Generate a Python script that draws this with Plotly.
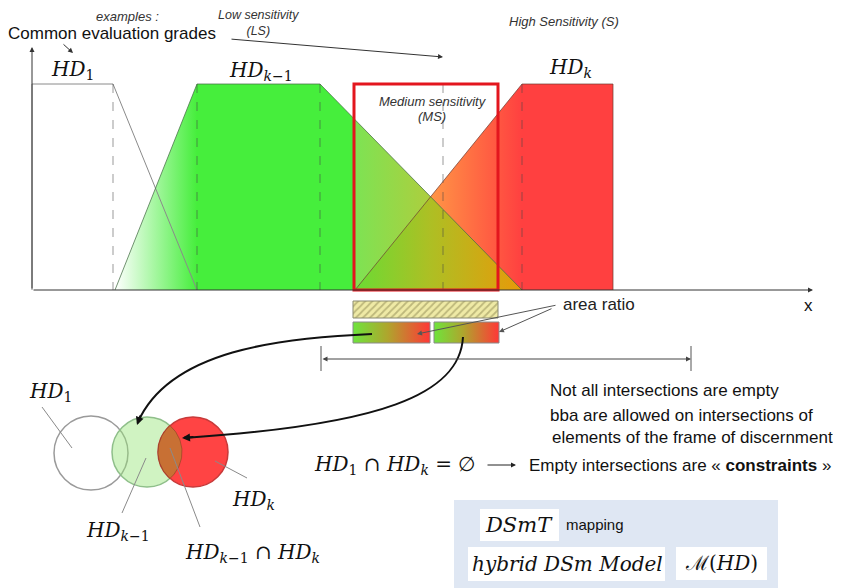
import numpy as np
import plotly.graph_objects as go

W, H = 841, 588
PAGE_MARGIN = 8   # default <body> margin of the html page

# ---- membership functions (trapezoids) on the evaluation-grade axis ----
hd1_x = [32, 32, 113, 197]
hd1_y = [290, 84, 84, 290]
hdk1_x = [115, 197, 320, 522]
hdk1_y = [290, 84, 84, 290]
hdk_x = [355, 522, 613, 613]
hdk_y = [290, 84, 84, 290]
breakpoints_x = [113, 197, 320, 443, 522]
top_y, base_y = 84, 290
ms_box = [354, 498, 84, 290]          # medium sensitivity window (x0, x1, y0, y1)
axis_x0, axis_x_end, axis_y_end = 32, 813, 47

# ---- area ratio bars ----
hatch_bar = [353, 498, 301, 318]
ratio_bars_x = [[353, 430], [434, 499]]
ratio_bars_y = [322, 343]
dim_line = [321, 691, 359]

# ---- Venn diagram ----
circle_cx = [91, 147, 193]
circle_cy = [453, 452, 452]
circle_r = [37, 35, 35]
circle_fill = ["white", "rgba(150,228,120,0.45)", "#ff4444"]
circle_line = ["#9a9a9a", "#8fbf8a", "#c83a3a"]

SERIF = "DejaVu Serif"
SANS = "Liberation Sans"

fig = go.Figure()

# HD1 white fill
fig.add_trace(go.Scatter(x=hd1_x, y=hd1_y, fill="toself", fillcolor="white",
                         mode="none", hoverinfo="skip"))
# HDk red (with orange gradient on its rising side)
fig.add_trace(go.Scatter(
    x=hdk_x, y=hdk_y, fill="toself", mode="none", hoverinfo="skip",
    fillgradient=dict(type="horizontal", start=355, stop=613,
                      colorscale=[[0, "rgb(120,200,30)"], [0.29, "rgb(255,150,70)"],
                                  [0.647, "rgb(255,64,64)"], [1, "rgb(255,64,64)"]])))
# HDk-1 green (white->green on the left, green->amber inside MS window)
s0, s1 = 115, 522
def pos(v):
    return (v - s0) / (s1 - s0)
fig.add_trace(go.Scatter(
    x=hdk1_x, y=hdk1_y, fill="toself", mode="none", hoverinfo="skip",
    fillgradient=dict(type="horizontal", start=s0, stop=s1,
                      colorscale=[[0, "rgba(70,238,60,0)"], [pos(197), "rgba(70,238,60,1)"],
                                  [pos(353), "rgba(70,238,60,1)"], [pos(356), "rgba(105,222,55,0.86)"],
                                  [1, "rgba(228,168,0,0.86)"]])))
# outlines
for xs, ys, col in [(hd1_x, hd1_y, "#8a8a8a"), (hdk1_x, hdk1_y, "rgba(70,110,70,0.75)"),
                    (hdk_x, hdk_y, "rgba(110,60,50,0.7)")]:
    fig.add_trace(go.Scatter(x=xs, y=ys, mode="lines", hoverinfo="skip",
                             line=dict(color=col, width=1)))
# dashed break lines
for bx in breakpoints_x:
    fig.add_trace(go.Scatter(x=[bx, bx], y=[top_y, base_y], mode="lines", hoverinfo="skip",
                             line=dict(color="rgba(70,70,70,0.55)", width=1, dash="dash")))

# hatched bar
fig.add_trace(go.Bar(
    x=[hatch_bar[1] - hatch_bar[0]], base=[hatch_bar[0]],
    y=[(hatch_bar[2] + hatch_bar[3]) / 2], width=[hatch_bar[3] - hatch_bar[2]],
    orientation="h", hoverinfo="skip",
    marker=dict(color="#efeaa6", line=dict(color="#8a8a70", width=1),
                pattern=dict(shape="/", fgcolor="#8c8650", bgcolor="#efeaa6",
                             size=5, solidity=0.35))))
# gradient ratio bars
for bx in ratio_bars_x:
    fig.add_trace(go.Scatter(
        x=[bx[0], bx[1], bx[1], bx[0], bx[0]],
        y=[ratio_bars_y[0], ratio_bars_y[0], ratio_bars_y[1], ratio_bars_y[1], ratio_bars_y[0]],
        fill="toself", mode="lines", hoverinfo="skip",
        line=dict(color="#8a8a8a", width=1),
        fillgradient=dict(type="horizontal", start=bx[0], stop=bx[1],
                          colorscale=[[0, "rgb(110,228,60)"], [0.45, "rgb(175,165,45)"],
                                      [1, "rgb(255,55,55)"]])))

# lens (HDk-1 ∩ HDk)
c2 = np.array([circle_cx[1], circle_cy[1]], float)
c3 = np.array([circle_cx[2], circle_cy[2]], float)
r2, r3 = circle_r[1], circle_r[2]
d = np.linalg.norm(c3 - c2)
base_ang = np.arctan2(*(c3 - c2)[::-1])
a2 = np.arccos((d**2 + r2**2 - r3**2) / (2 * d * r2))
a3 = np.arccos((d**2 + r3**2 - r2**2) / (2 * d * r3))
t2 = np.linspace(base_ang - a2, base_ang + a2, 40)
t3 = np.linspace(base_ang + np.pi - a3, base_ang + np.pi + a3, 40)
lx = np.concatenate([c2[0] + r2 * np.cos(t2), c3[0] + r3 * np.cos(t3)])
ly = np.concatenate([c2[1] + r2 * np.sin(t2), c3[1] + r3 * np.sin(t3)])
fig.add_trace(go.Scatter(x=lx, y=ly, fill="toself", fillcolor="rgb(200,112,52)",
                         mode="lines", line=dict(color="rgba(120,60,30,0.5)", width=1),
                         hoverinfo="skip"))

shapes = []
# MS window
shapes.append(dict(type="rect", x0=ms_box[0], x1=ms_box[1], y0=ms_box[2], y1=ms_box[3],
                   line=dict(color="#e3161e", width=3)))
# Venn circles (below traces so the lens sits on top)
for cx, cy, r, fc, lc in zip(circle_cx, circle_cy, circle_r, circle_fill, circle_line):
    shapes.append(dict(type="circle", layer="below", x0=cx - r, x1=cx + r, y0=cy - r, y1=cy + r,
                       fillcolor=fc, line=dict(color=lc, width=1.5)))
# leader lines
for (x0, y0, x1, y1) in [(42, 407, 72, 448), (122, 513, 146, 458),
                         (215, 461, 247, 478), (170, 448, 200, 527)]:
    shapes.append(dict(type="line", x0=x0, y0=y0, x1=x1, y1=y1,
                       line=dict(color="#8a8a8a", width=1)))
# dimension ticks
for tx in dim_line[:2]:
    shapes.append(dict(type="line", x0=tx, x1=tx, y0=346, y1=371,
                       line=dict(color="#555", width=1)))
# curved arrows
shapes.append(dict(type="path", path="M 372 334 C 280 338, 170 350, 138 422",
                   line=dict(color="#111", width=2)))
shapes.append(dict(type="path", path="M 463 337 C 460 395, 380 425, 184 438",
                   line=dict(color="#111", width=2)))
# blue panel and white boxes
shapes.append(dict(type="rect", x0=454, x1=778, y0=500, y1=592, fillcolor="#dfe7f3",
                   line=dict(width=0), layer="below"))
for (x0, x1, y0, y1) in [(480, 559, 509, 541), (468, 665, 547, 581), (676, 767, 547, 580)]:
    shapes.append(dict(type="rect", x0=x0, x1=x1, y0=y0, y1=y1, fillcolor="white",
                       line=dict(width=0)))

ann = []
def arrow(x0, y0, x1, y1, color="#333", width=1, head=2, size=1, side="end"):
    ann.append(dict(x=x1, y=y1, ax=x0, ay=y0, xref="x", yref="y", axref="x", ayref="y",
                    text="", showarrow=True, arrowhead=head, arrowsize=size,
                    arrowwidth=width, arrowcolor=color, arrowside=side, startarrowhead=head,
                    startarrowsize=size))

def txt(t, x, y, size, family=SANS, color="#111", xanchor="center"):
    ann.append(dict(x=x, y=y, xref="x", yref="y", text=t, showarrow=False,
                    xanchor=xanchor, yanchor="middle",
                    font=dict(size=size, family=family, color=color)))

# axes
arrow(axis_x0, base_y, axis_x_end, base_y, color="#333", width=1)
arrow(axis_x0, base_y, axis_x0, axis_y_end, color="#333", width=1)
txt("x", 808, 305, 17)
# annotation arrows
arrow(230, 39, 443, 57, color="#333")
arrow(62, 43, 73, 53, color="#333")
arrow(557, 305, 417, 334, color="#555")
arrow(553, 308, 499, 332, color="#555")
arrow(dim_line[0], dim_line[2], dim_line[1], dim_line[2], color="#444", side="end+start")
arrow(141, 414, 137, 425, color="#111", width=2, size=0.8)
arrow(195, 437, 182, 438, color="#111", width=2, size=0.8)
arrow(486, 465, 516, 465, color="#222", width=1)

# top labels
txt("<i>examples :</i>", 127, 16, 13, color="#333")
txt("<i>Low sensitivity<br>(LS)</i>", 258, 23, 12.5, color="#333")
txt("<i>High Sensitivity (S)</i>", 564, 21, 13, color="#333")
txt("Common evaluation grades", 112, 33, 17)
txt("<i>Medium sensitivity</i>", 433, 101, 13, color="#333")
txt("<i>(MS)</i>", 432, 116, 13, color="#333")
txt("<i>HD</i><sub>1</sub>", 72, 70, 20, SERIF)
txt("<i>HD</i><sub><i>k</i>−1</sub>", 261, 71, 20, SERIF)
txt("<i>HD</i><sub><i>k</i></sub>", 570, 68, 20, SERIF)
txt("area ratio", 599, 304, 17, color="#222")
# Venn labels
txt("<i>HD</i><sub>1</sub>", 50, 392, 20, SERIF)
txt("<i>HD</i><sub><i>k</i>−1</sub>", 118, 531, 20, SERIF)
txt("<i>HD</i><sub><i>k</i></sub>", 253, 500, 20, SERIF)
txt("<i>HD</i><sub><i>k</i>−1</sub> ∩ <i>HD</i><sub><i>k</i></sub>", 252, 553, 20, SERIF)
# right texts
txt("<i>HD</i><sub>1</sub> ∩ <i>HD</i><sub><i>k</i></sub> = ∅", 394, 465, 20, SERIF)
txt("Not all intersections are empty", 548, 390, 17, xanchor="left")
txt("bba are allowed on intersections of", 548, 415, 17, xanchor="left")
txt("elements of the frame of discernment", 550, 437, 17, xanchor="left")
txt("Empty intersections are « <b>constraints</b> »", 527, 465, 17, xanchor="left")
# panel
txt("<i>DSmT</i>", 519, 525, 21, SERIF)
txt("mapping", 595, 524, 15)
txt("<i>hybrid DSm Model</i>", 567, 564, 20, SERIF)
txt("ℳ(<i>HD</i>)", 721, 563, 20, SERIF)

# the page body has an 8px margin: shrink the figure and shift the ranges so that
# data units keep mapping 1:1 onto window pixels
fig.update_layout(
    width=W - PAGE_MARGIN, height=H - PAGE_MARGIN, autosize=False,
    margin=dict(l=0, r=0, t=0, b=0),
    paper_bgcolor="white", plot_bgcolor="white", showlegend=False,
    xaxis=dict(range=[PAGE_MARGIN, W], visible=False, fixedrange=True),
    yaxis=dict(range=[H, PAGE_MARGIN], visible=False, fixedrange=True),
    shapes=shapes, annotations=ann,
)
fig.write_html("out.html")
